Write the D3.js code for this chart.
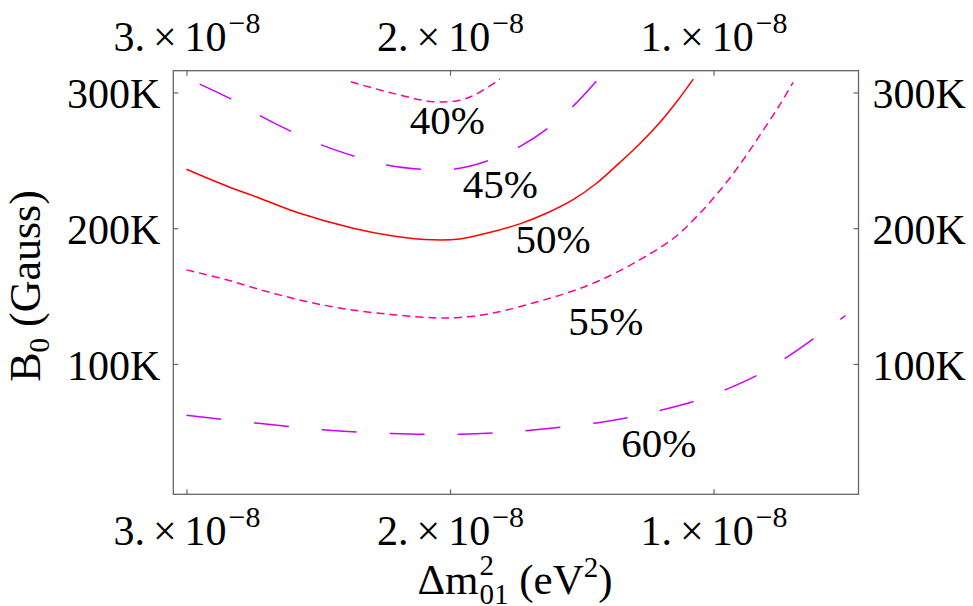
<!DOCTYPE html>
<html>
<head>
<meta charset="utf-8">
<script src="https://cdn.jsdelivr.net/npm/d3@7"></script>
<style>
  body { margin: 0; background: #fff; }
  svg { display: block; font-family: "Liberation Serif", "Times New Roman", serif; }
</style>
</head>
<body>
<div id="chart"></div>
<script>
// x in units of 1e-8 eV^2, y in K Gauss
const xTicks = [3, 2, 1]
const yTicks = [100, 200, 300]
const levels = ["40%", "45%", "50%", "55%", "60%"]

const c40 = [[2.376,307.8],[2.216,299.3],[2.064,293.2],[1.963,294.2],[1.899,298.9],[1.811,309.8]]
const c45 = [[2.950,306.1],[2.829,294.9],[2.718,282.6],[2.599,271.0],[2.483,261.0],[2.357,252.7],[2.236,246.3],
             [2.102,243.4],[1.975,243.8],[1.849,250.2],[1.732,260.5],[1.624,274.3],[1.526,291.2],[1.438,309.8]]
const c50 = [[3.0,243.4],[2.848,231.1],[2.722,222.1],[2.570,211.0],[2.368,200.0],[2.216,194.3],[2.064,191.4],
             [1.963,192.1],[1.861,196.3],[1.735,203.2],[1.634,211.0],[1.533,221.0],[1.444,233.1],[1.356,248.3],
             [1.280,262.2],[1.204,277.8],[1.140,293.1],[1.077,309.8]]
const c55 = [[3.0,169.3],[2.848,162.0],[2.696,153.4],[2.545,146.0],[2.393,140.4],[2.216,136.3],[2.064,134.0],
             [1.963,134.3],[1.836,137.5],[1.685,144.9],[1.558,152.2],[1.432,161.5],[1.280,176.7],[1.153,192.4],
             [1.052,211.0],[0.964,230.6],[0.888,250.2],[0.812,272.0],[0.747,291.4],[0.698,307.4]]
const c60 = [[3.0,62.2],[2.741,56.6],[2.482,51.5],[2.222,48.8],[1.963,48.2],[1.704,51.0],[1.444,56.6],
             [1.318,60.7],[1.191,66.4],[1.065,73.0],[0.945,81.8],[0.825,92.6],[0.717,105.6],[0.609,120.3],[0.499,135.7]]

// where the level labels sit (data coords, baseline centre)
const labelX = [2.010, 1.809, 1.609, 1.409, 1.208]
const labelY = [269.3, 222.1, 181.6, 121.5, 31.6]

const curves = [c40, c45, c50, c55, c60]
const pink = "#ff0099", purple = "#cc00ff", red = "#ff0000"
const colors = [pink, purple, red, pink, purple]
const dashes = ["8,5", "35,33", null, "8,5", "35,33"]

const width = 973, height = 606
const margin = {top: 70.7, right: 114.5, bottom: 111.7, left: 173.3}

const x = d3.scaleLinear()
    .domain([3.05, 0.45])
    .range([margin.left, width - margin.right])
const y = d3.scaleLinear()
    .domain([4, 316])
    .range([height - margin.bottom, margin.top])

const svg = d3.select("#chart").append("svg")
    .attr("width", width)
    .attr("height", height)

const line = d3.line()
    .x(d => x(d[0]))
    .y(d => y(d[1]))
    .curve(d3.curveCatmullRom.alpha(0.5))

svg.append("g")
    .attr("fill", "none")
    .attr("stroke-width", 1.5)
  .selectAll("path")
  .data(curves)
  .join("path")
    .attr("stroke", (d, i) => colors[i])
    .attr("stroke-dasharray", (d, i) => dashes[i])
    .attr("d", line)

svg.append("g")
    .attr("font-size", 41)
    .attr("text-anchor", "middle")
  .selectAll("text")
  .data(levels)
  .join("text")
    .attr("x", (d, i) => x(labelX[i]))
    .attr("y", (d, i) => y(labelY[i]))
    .text(d => d)

function sci(g, yPos) {
  g.selectAll(".tick text").each(function(d) {
    const t = d3.select(this).text(null).attr("y", yPos).attr("dy", null).attr("fill", "#000")
    t.append("tspan").text(d + ".")
    t.append("tspan").attr("dx", 8).text("\u00d7")
    t.append("tspan").attr("dx", 8).text("10")
    t.append("tspan").attr("dx", 2).attr("dy", -18).attr("font-size", 30).text("\u22128")
  })
}

function tidy(g) {
  g.attr("font-size", 42).attr("font-family", null)
  g.select(".domain").remove()
  g.selectAll(".tick line").attr("stroke", "#666").attr("stroke-width", 1.2)
}

svg.append("g")
    .attr("transform", `translate(0,${margin.top})`)
    .call(d3.axisTop(x).tickValues(xTicks).tickSizeInner(-5).tickSizeOuter(0))
    .call(tidy)
    .call(g => sci(g, 51 - margin.top))

svg.append("g")
    .attr("transform", `translate(0,${height - margin.bottom})`)
    .call(d3.axisBottom(x).tickValues(xTicks).tickSizeInner(-5).tickSizeOuter(0))
    .call(tidy)
    .call(g => sci(g, 545 - (height - margin.bottom)))

svg.append("g")
    .attr("transform", `translate(${margin.left},0)`)
    .call(d3.axisLeft(y).tickValues(yTicks).tickSizeInner(-5).tickSizeOuter(0).tickPadding(13).tickFormat(d => d + "K"))
    .call(tidy)
    .call(g => g.selectAll(".tick text").attr("dy", "0.36em").attr("fill", "#000"))

svg.append("g")
    .attr("transform", `translate(${width - margin.right},0)`)
    .call(d3.axisRight(y).tickValues(yTicks).tickSizeInner(-5).tickSizeOuter(0).tickPadding(14).tickFormat(d => d + "K"))
    .call(tidy)
    .call(g => g.selectAll(".tick text").attr("dy", "0.36em").attr("fill", "#000"))

svg.append("rect")
    .attr("x", margin.left)
    .attr("y", margin.top)
    .attr("width", width - margin.left - margin.right)
    .attr("height", height - margin.top - margin.bottom)
    .attr("fill", "none")
    .attr("stroke", "#666")
    .attr("stroke-width", 1.3)

// axis titles
const xt = svg.append("text")
    .attr("x", 515)
    .attr("y", 594)
    .attr("font-size", 43)
    .attr("text-anchor", "middle")
xt.append("tspan").text("\u0394m")
xt.append("tspan").attr("dx", 1).attr("dy", -19).attr("font-size", 29).text("2")
xt.append("tspan").attr("dx", -14.5).attr("dy", 29).attr("font-size", 29).text("01")
xt.append("tspan").attr("dy", -10).text(" (eV")
xt.append("tspan").attr("dy", -17).attr("font-size", 29).text("2")
xt.append("tspan").attr("dy", 17).text(")")

const yt = svg.append("text")
    .attr("transform", "translate(40,286) rotate(-90)")
    .attr("font-size", 44)
    .attr("text-anchor", "middle")
yt.append("tspan").text("B")
yt.append("tspan").attr("dy", 9).attr("font-size", 29).text("0")
yt.append("tspan").attr("dy", -9).text(" (Gauss)")
</script>
</body>
</html>
